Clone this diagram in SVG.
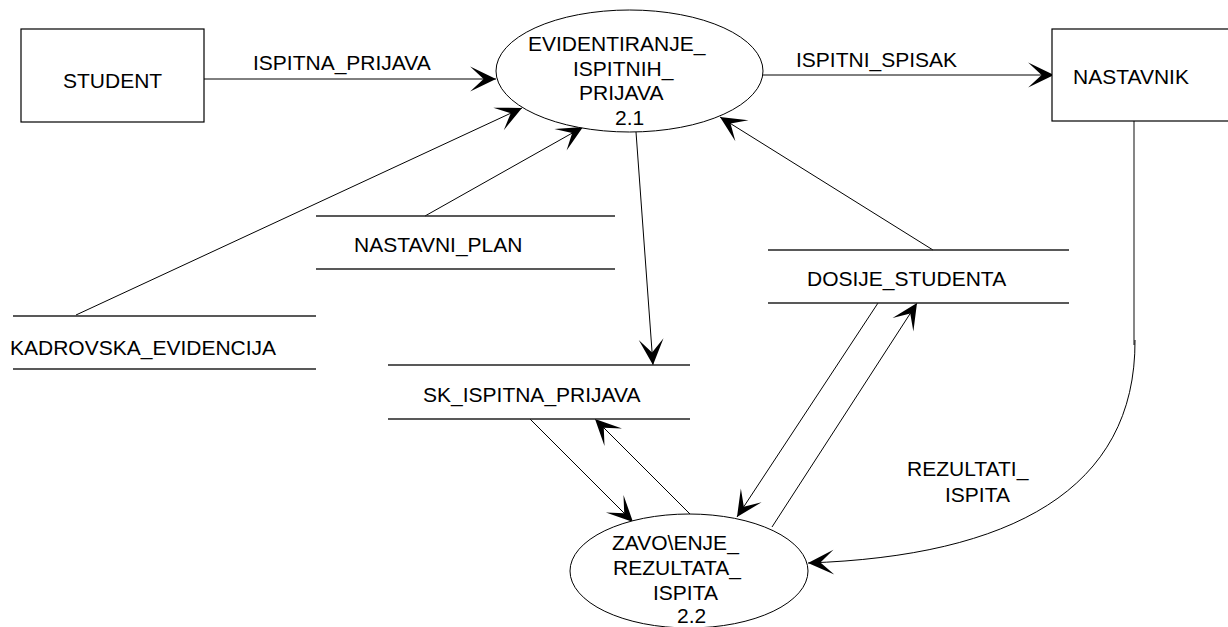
<svg xmlns="http://www.w3.org/2000/svg" width="1228" height="627" viewBox="0 0 1228 627">
<style>
.t{font-family:"Liberation Sans",Arial,sans-serif;font-size:21px;fill:#000}
.box{fill:#fff;stroke:#000;stroke-width:1.2}
.ds{stroke:#222;stroke-width:1.3}
.c{fill:none;stroke:#000;stroke-width:1}
</style>
<defs>
<marker id="ah" markerUnits="userSpaceOnUse" markerWidth="30" markerHeight="30" viewBox="-27 -14 29 28" refX="0" refY="0" orient="auto" overflow="visible">
<path d="M0,0 L-25,-12 L-12,0 L-25,12 Z" fill="#000"/>
</marker>
</defs>
<rect width="1228" height="627" fill="#fff"/>
<g id="connectors">
<line class="c" x1="204" y1="79" x2="496" y2="79" marker-end="url(#ah)"/>
<line class="c" x1="763" y1="75" x2="1054" y2="75" marker-end="url(#ah)"/>
<line class="c" x1="76" y1="315" x2="522" y2="108" marker-end="url(#ah)"/>
<line class="c" x1="425" y1="216" x2="583" y2="127" marker-end="url(#ah)"/>
<line class="c" x1="933" y1="250" x2="720" y2="117" marker-end="url(#ah)"/>
<line class="c" x1="636" y1="132" x2="653" y2="365" marker-end="url(#ah)"/>
<line class="c" x1="530" y1="419" x2="633" y2="522" marker-end="url(#ah)"/>
<line class="c" x1="690" y1="514" x2="595" y2="419" marker-end="url(#ah)"/>
<line class="c" x1="878" y1="303" x2="737" y2="517" marker-end="url(#ah)"/>
<line class="c" x1="772" y1="527" x2="917" y2="303" marker-end="url(#ah)"/>
<line x1="1134" y1="121" x2="1134" y2="345" stroke="#444" stroke-width="1.3"/>
<path class="c" d="M1135,340 C1136,490 1010,556 808,563" marker-end="url(#ah)"/>
</g>
<g id="student">
<rect class="box" x="21" y="29" width="183" height="93"/>
<text class="t" x="63" y="88">STUDENT</text>
</g>
<g id="nastavnik">
<rect class="box" x="1052" y="29" width="190" height="92"/>
<text class="t" x="1073" y="84">NASTAVNIK</text>
</g>
<g id="p21">
<ellipse cx="629.5" cy="71" rx="133.5" ry="61" fill="#fff" stroke="#000" stroke-width="1"/>
<text class="t" x="528" y="51">EVIDENTIRANJE_</text>
<text class="t" x="573" y="76">ISPITNIH_</text>
<text class="t" x="579" y="100">PRIJAVA</text>
<text class="t" x="615" y="125">2.1</text>
</g>
<g id="p22">
<ellipse cx="689" cy="571" rx="119" ry="57" fill="#fff" stroke="#000" stroke-width="1"/>
<text class="t" x="612" y="550">ZAVO\ENJE_</text>
<text class="t" x="613" y="575">REZULTATA_</text>
<text class="t" x="653" y="600">ISPITA</text>
<text class="t" x="677" y="623">2.2</text>
</g>
<g id="ds_nastavni_plan">
<line class="ds" x1="316" y1="216" x2="615" y2="216"/>
<line class="ds" x1="316" y1="269" x2="615" y2="269"/>
<text class="t" x="354" y="252">NASTAVNI_PLAN</text>
</g>
<g id="ds_dosije">
<line class="ds" x1="768" y1="250" x2="1069" y2="250"/>
<line class="ds" x1="768" y1="303" x2="1069" y2="303"/>
<text class="t" x="807" y="286">DOSIJE_STUDENTA</text>
</g>
<g id="ds_kadrovska">
<line class="ds" x1="13" y1="316" x2="316" y2="316"/>
<line class="ds" x1="13" y1="369" x2="316" y2="369"/>
<text class="t" x="10" y="355">KADROVSKA_EVIDENCIJA</text>
</g>
<g id="ds_sk">
<line class="ds" x1="388" y1="365" x2="690" y2="365"/>
<line class="ds" x1="388" y1="419" x2="690" y2="419"/>
<text class="t" x="423" y="402">SK_ISPITNA_PRIJAVA</text>
</g>
<g id="labels">
<text class="t" x="253" y="70">ISPITNA_PRIJAVA</text>
<text class="t" x="796" y="67">ISPITNI_SPISAK</text>
<text class="t" x="907" y="476">REZULTATI_</text>
<text class="t" x="945" y="502">ISPITA</text>
</g>
</svg>
